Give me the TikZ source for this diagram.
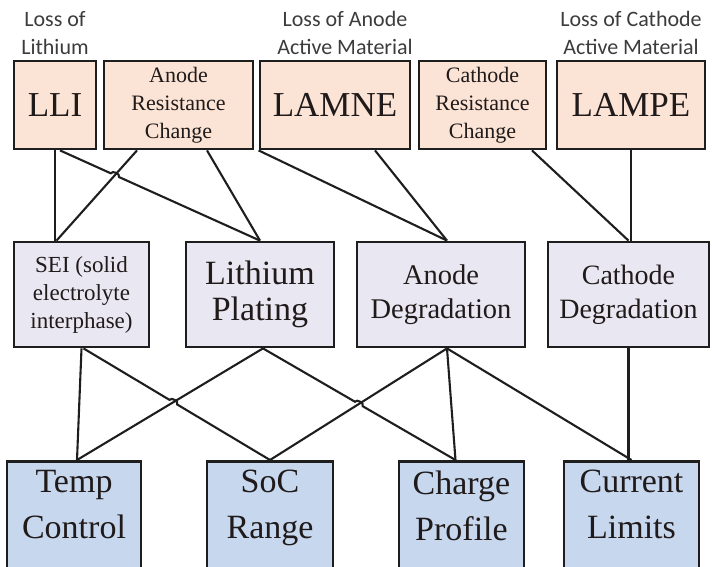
\documentclass[tikz,border=0pt]{standalone}
\usepackage{fontspec}
\setmainfont{Liberation Serif}
\setsansfont{Carlito}
\usepackage{tikz}
\usetikzlibrary{positioning, calc, intersections}
\definecolor{peach}   {HTML}{FBE4D5}
\definecolor{lilac}   {HTML}{E9E7F1}
\definecolor{steel}   {HTML}{C6D7EE}
\definecolor{edge}    {HTML}{1E1E1E}
\definecolor{ink}     {HTML}{201A1A}
\definecolor{muted}   {HTML}{3C3C3C}

\tikzset{
  lossbox/.style={draw=edge, fill=peach, line width=2.8pt, minimum height=88pt, inner sep=2pt, align=center, text=ink, font=\rmfamily\fontsize{35}{40}\selectfont},
  resbox/.style={lossbox, font=\rmfamily\fontsize{22}{28}\selectfont},
  mechbox/.style={draw=edge, fill=lilac, line width=2.8pt, minimum height=105pt, inner sep=2pt, align=center, text=ink},
  ctrlbox/.style={draw=edge, fill=steel, line width=2.8pt, anchor=north, inner xsep=2pt, inner ysep=9pt, text depth=36pt, align=center, text=ink, font=\rmfamily\fontsize{34}{46}\selectfont},
  losslabel/.style={font=\sffamily\fontsize{22}{28}\selectfont, text=muted, align=center, inner sep=1pt},
  link/.style={draw=edge, line width=2.1pt}
}

\begin{document}
\begin{tikzpicture}[x=1pt, y=-1pt]
  \useasboundingbox (0,0) rectangle (712,566);
  \clip (0,0) rectangle (712,566);

  % degradation modes
  \node[lossbox, minimum width=82pt] (lli) at (55,105) {LLI};
  \node[resbox, minimum width=149pt] (anres) at (178.5,105) {Anode\\Resistance\\Change};
  \node[lossbox, minimum width=150pt] (lamne) at (335,105) {LAMNE};
  \node[resbox, minimum width=127pt] (catres) at (482.5,105) {Cathode\\Resistance\\Change};
  \node[lossbox, minimum width=148pt] (lampe) at (631,105) {LAMPE};

  \node[losslabel, above=4pt of lli] (lli-note) {Loss of\\Lithium};
  \node[losslabel, above=4pt of lamne, xshift=10pt] (lamne-note) {Loss of Anode\\Active Material};
  \node[losslabel, above=4pt of lampe] (lampe-note) {Loss of Cathode\\Active Material};

  % mechanisms
  \node[mechbox, minimum width=135pt, font=\rmfamily\fontsize{23}{28}\selectfont] (sei) at (81.5,294.5) {SEI (solid\\electrolyte\\interphase)};
  \node[mechbox, minimum width=148pt, font=\rmfamily\fontsize{34}{36}\selectfont] (plating) at (260,294.5) {Lithium\\Plating};
  \node[mechbox, minimum width=168pt, font=\rmfamily\fontsize{28.5}{34}\selectfont] (anodeg) at (441,294.5) {Anode\\Degradation};
  \node[mechbox, minimum width=161pt, font=\rmfamily\fontsize{28}{34}\selectfont] (cathdeg) at (628.5,294.5) {Cathode\\Degradation};

  % controls
  \node[ctrlbox, minimum width=134pt] (temp) at (74,460) {Temp\\Control};
  \node[ctrlbox, minimum width=126pt] (soc) at (270,460) {SoC\\Range};
  \node[ctrlbox, minimum width=125pt] (charge) at (461.5,460) {Charge\\Profile};
  \node[ctrlbox, minimum width=135pt] (current) at (631.5,460) {Current\\Limits};

  % ports
  \coordinate (lli-out) at ([xshift=5pt]lli.south);
  \coordinate (anres-l) at ([xshift=-41.5pt]anres.south);
  \coordinate (anres-r) at ([xshift=28.5pt]anres.south);
  \coordinate (lamne-out) at ([xshift=40pt]lamne.south);
  \coordinate (catres-out) at ([xshift=49.5pt]catres.south);
  \coordinate (sei-in) at ([xshift=-25pt]sei.north);
  \coordinate (sei-out) at ([xshift=2pt]sei.south);
  \coordinate (anodeg-in) at ([xshift=6pt]anodeg.north);
  \coordinate (anodeg-out) at ([xshift=6pt]anodeg.south);
  \coordinate (plating-out) at ([xshift=3pt]plating.south);
  \coordinate (temp-in) at ([xshift=3pt]temp.north);
  \coordinate (charge-in) at ([xshift=-6pt]charge.north);

  % crossings
  \path[name path=lli-plating] (lli-out) -- (plating.north);
  \path[name path=anres-sei] (anres-l) -- (sei-in);
  \path[name intersections={of=lli-plating and anres-sei, by=hopA}];
  \path[name path=sei-soc] (sei-out) -- (soc.north);
  \path[name path=plating-temp] (plating-out) -- (temp-in);
  \path[name intersections={of=sei-soc and plating-temp, by=hopB}];
  \path[name path=plating-charge] (plating-out) -- (charge-in);
  \path[name path=anodeg-soc] (anodeg-out) -- (soc.north);
  \path[name intersections={of=plating-charge and anodeg-soc, by=hopC}];

  % modes to mechanisms
  \draw[link] (lli.south) -- (lli.south |- sei.north);
  \draw[link] (lli-out) -- ($(hopA)!4.5pt!(lli-out)$) to[bend left=90] ($(hopA)!4.5pt!(plating.north)$) -- (plating.north);
  \draw[link] (anres-l) -- (sei-in);
  \draw[link] (anres-r) -- (plating.north);
  \draw[link] (lamne.south west) -- (anodeg-in);
  \draw[link] (lamne-out) -- (anodeg-in);
  \draw[link] (catres-out) -- (cathdeg.north);
  \draw[link] (lampe.south) -- (lampe.south |- cathdeg.north);

  % mechanisms to controls
  \draw[link] (sei.south) -- (temp-in);
  \draw[link] (sei-out) -- ($(hopB)!4.5pt!(sei-out)$) to[bend left=90] ($(hopB)!4.5pt!(soc.north)$) -- (soc.north);
  \draw[link] (plating-out) -- (temp-in);
  \draw[link] (plating-out) -- ($(hopC)!4.5pt!(plating-out)$) to[bend left=90] ($(hopC)!4.5pt!(charge-in)$) -- (charge-in);
  \draw[link] (anodeg-out) -- (soc.north);
  \draw[link] (anodeg-out) -- (charge-in);
  \draw[link] (anodeg-out) -- (current.north);
  \draw[link] (cathdeg.south) -- (cathdeg.south |- current.north);
\end{tikzpicture}
\end{document}
